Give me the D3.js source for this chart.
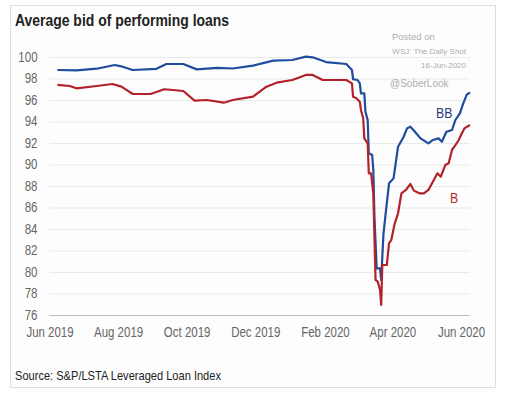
<!DOCTYPE html>
<html>
<head>
<meta charset="utf-8">
<script src="https://cdn.jsdelivr.net/npm/d3@7"></script>
<style>
  html, body { margin: 0; padding: 0; background: #fff; }
  svg { display: block; font-family: 'Liberation Sans', Arial, sans-serif; }
</style>
</head>
<body>
<div id="chart"></div>
<script>
/* global d3 */

// ---- data ----
const bbDates = ['2019-06-08', '2019-06-25', '2019-07-13', '2019-07-29', '2019-08-05', '2019-08-14',
  '2019-09-04', '2019-09-13', '2019-09-28', '2019-10-10', '2019-10-28', '2019-11-11', '2019-11-29',
  '2019-12-17', '2020-01-03', '2020-01-15', '2020-01-21', '2020-02-02', '2020-02-20', '2020-02-25',
  '2020-02-26', '2020-03-01', '2020-03-03', '2020-03-04', '2020-03-07', '2020-03-08', '2020-03-10',
  '2020-03-11', '2020-03-14', '2020-03-15', '2020-03-16', '2020-03-18', '2020-03-21', '2020-03-22',
  '2020-03-24', '2020-03-26', '2020-03-29', '2020-04-02', '2020-04-06', '2020-04-11', '2020-04-14',
  '2020-04-17', '2020-04-21', '2020-04-26', '2020-05-03', '2020-05-07', '2020-05-12', '2020-05-15',
  '2020-05-19', '2020-05-24', '2020-05-27', '2020-05-31', '2020-06-03', '2020-06-06', '2020-06-09'];
const bbValues = [98.79, 98.76, 98.91, 99.26, 99.10, 98.79,
  98.90, 99.35, 99.35, 98.85, 98.98, 98.93, 99.20,
  99.66, 99.72, 100.03, 99.97, 99.53, 99.35, 98.79,
  97.93, 97.86, 97.55, 96.62, 96.62, 94.91, 94.14,
  91.04, 90.88, 89.49, 85.14, 80.34, 80.34, 79.26,
  83.50, 85.46, 88.25, 88.71, 91.65, 92.58, 93.36,
  93.52, 93.05, 92.43, 91.97, 92.28, 92.43, 92.12,
  93.05, 93.21, 94.14, 94.76, 95.69, 96.47, 96.71];

const bDates = ['2019-06-08', '2019-06-19', '2019-06-25', '2019-07-13', '2019-07-27', '2019-08-04',
  '2019-08-14', '2019-08-30', '2019-09-11', '2019-09-19', '2019-09-28', '2019-10-08', '2019-10-19',
  '2019-11-03', '2019-11-11', '2019-11-29', '2019-12-11', '2019-12-20', '2020-01-03', '2020-01-15',
  '2020-01-21', '2020-01-30', '2020-02-20', '2020-02-25', '2020-02-26', '2020-02-29', '2020-03-03',
  '2020-03-04', '2020-03-06', '2020-03-07', '2020-03-10', '2020-03-11', '2020-03-13', '2020-03-15',
  '2020-03-17', '2020-03-19', '2020-03-21', '2020-03-22', '2020-03-23', '2020-03-27', '2020-03-29',
  '2020-03-31', '2020-04-03', '2020-04-06', '2020-04-09', '2020-04-13', '2020-04-17', '2020-04-20',
  '2020-04-25', '2020-04-29', '2020-05-03', '2020-05-07', '2020-05-11', '2020-05-14', '2020-05-18',
  '2020-05-21', '2020-05-24', '2020-05-27', '2020-05-30', '2020-06-01', '2020-06-04', '2020-06-09'];
const bValues = [97.40, 97.30, 97.09, 97.30, 97.49, 97.24,
  96.56, 96.56, 97.00, 96.93, 96.84, 95.94, 96.00,
  95.75, 96.00, 96.31, 97.24, 97.61, 97.86, 98.33,
  98.33, 97.86, 97.86, 97.55, 96.31, 96.16, 95.84,
  95.07, 94.30, 92.43, 91.97, 89.18, 89.18, 87.32,
  79.26, 79.10, 78.33, 76.93, 80.65, 80.65, 82.67,
  82.98, 84.50, 85.46, 87.32, 87.63, 88.19, 87.57,
  87.32, 87.32, 87.63, 88.40, 89.18, 88.87, 89.95,
  90.11, 91.35, 91.81, 92.28, 92.74, 93.36, 93.67];

const yTicks = [76, 78, 80, 82, 84, 86, 88, 90, 92, 94, 96, 98, 100];
const xTicks = ['2019-06-01', '2019-08-01', '2019-10-01', '2019-12-01', '2020-02-01', '2020-04-01', '2020-06-01'];

/* -----------------    SETTINGS     ------------------ */
const W = 513, H = 396;
const plot = {left: 49.5, right: 470, top: 57, bottom: 315};
const colBB = '#1f4c9c';
const colB = '#b3222b';
const colGrid = '#e9e9e9';
const colTick = '#666';
const squeeze = 0.82;   // the original uses a condensed face

const parse = d3.timeParse('%Y-%m-%d');

// squash text horizontally to mimic a narrow font
function condense(sel, k) {
  sel.each(function() {
    const w = this.getComputedTextLength();
    d3.select(this)
      .attr('textLength', w * k)
      .attr('lengthAdjust', 'spacingAndGlyphs');
  });
}

const svg = d3.select('#chart')
  .append('svg')
  .attr('width', W)
  .attr('height', H);

// outer frame
svg.append('rect')
  .attr('x', 10.5).attr('y', 5.5)
  .attr('width', 485).attr('height', 382)
  .attr('fill', '#fdfdfd')
  .attr('stroke', '#dedede');

const x = d3.scaleTime()
  .domain([parse('2019-06-01'), parse('2020-06-09')])
  .range([plot.left, plot.right]);

const y = d3.scaleLinear()
  .domain([76, 100])
  .range([plot.bottom, plot.top]);

// gridlines + y labels
const yAxis = svg.append('g')
  .attr('transform', `translate(${plot.left},0)`)
  .call(d3.axisLeft(y).tickValues(yTicks).tickSize(-(plot.right - plot.left)).tickPadding(12));
yAxis.select('.domain').remove();
yAxis.selectAll('.tick line')
  .attr('stroke', d => d === 76 ? '#bdbdbd' : colGrid)
  .attr('stroke-width', d => d === 76 ? 1.2 : 1);
yAxis.selectAll('.tick text')
  .attr('font-family', null)
  .attr('font-size', 14)
  .attr('fill', colTick)
  .call(condense, squeeze);

// x labels
const xAxis = svg.append('g')
  .attr('transform', `translate(0,${plot.bottom})`)
  .call(d3.axisBottom(x).tickValues(xTicks.map(parse)).tickFormat(d3.timeFormat('%b %Y')).tickSize(0).tickPadding(12));
xAxis.select('.domain').remove();
xAxis.selectAll('.tick text')
  .attr('font-family', null)
  .attr('font-size', 14)
  .attr('fill', colTick)
  .call(condense, squeeze);

// lines
const line = d3.line()
  .x(d => x(d.date))
  .y(d => y(d.value));

const series = [
  {dates: bbDates, values: bbValues, col: colBB},
  {dates: bDates, values: bValues, col: colB}
];

series.forEach(s => {
  const pts = s.dates.map((dt, i) => ({date: parse(dt), value: s.values[i]}));
  svg.append('path')
    .datum(pts)
    .attr('fill', 'none')
    .attr('stroke', s.col)
    .attr('stroke-width', 2.2)
    .attr('stroke-linejoin', 'round')
    .attr('d', line);
});

// series labels
svg.append('text')
  .attr('x', 436).attr('y', 117.5)
  .attr('font-size', 15)
  .attr('fill', '#2c3c7c')
  .text('BB')
  .call(condense, squeeze);

svg.append('text')
  .attr('x', 450).attr('y', 203)
  .attr('font-size', 15)
  .attr('fill', '#b52a31')
  .text('B')
  .call(condense, squeeze);

// title and source
svg.append('text')
  .attr('x', 15).attr('y', 26)
  .attr('font-size', 17)
  .attr('font-weight', 'bold')
  .attr('fill', '#222')
  .text('Average bid of performing loans')
  .call(condense, squeeze);

svg.append('text')
  .attr('x', 15).attr('y', 380)
  .attr('font-size', 13.5)
  .attr('fill', '#222')
  .text('Source: S&P/LSTA Leveraged Loan Index')
  .call(condense, squeeze);

// watermark
const wm = svg.append('g')
  .attr('fill', '#adadad');
wm.append('text').attr('x', 392).attr('y', 39.5).attr('font-size', 9.5).text('Posted on');
wm.append('text').attr('x', 466).attr('y', 54).attr('font-size', 8).attr('text-anchor', 'end').text('WSJ: The Daily Shot');
wm.append('text').attr('x', 466).attr('y', 68).attr('font-size', 8).attr('text-anchor', 'end').text('16-Jun-2020');
wm.append('text').attr('x', 390).attr('y', 86.5).attr('font-size', 10).text('@SoberLook');
</script>
</body>
</html>
